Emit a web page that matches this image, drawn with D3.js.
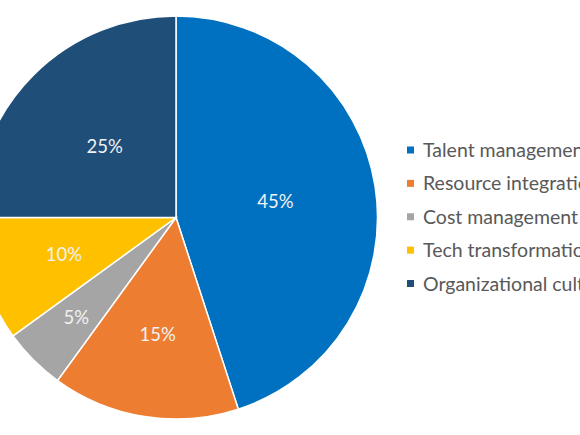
<!DOCTYPE html>
<html>
<head>
<meta charset="utf-8">
<script src="https://cdn.jsdelivr.net/npm/d3@7"></script>
<style>
  html, body { margin: 0; padding: 0; background: #fff; overflow: hidden; }
  svg { display: block; font-family: Lato, "Noto Sans", sans-serif; }
</style>
</head>
<body>
<svg id="chart" width="580" height="435"></svg>
<script>
// chart data
var categories = ["Talent management", "Resource integration", "Cost management", "Tech transformation", "Organizational culture"];
var shares = [45, 15, 5, 10, 25];
var sliceColors = ["#0070C0", "#ED7D31", "#A5A5A5", "#FFC000", "#1F4E79"];

var width = 580, height = 435;
var cx = 176, cy = 217.5, radius = 201.5;

var svg = d3.select("#chart");

var pie = d3.pie().sort(null).value(function(d){ return d; });
var arcs = pie(shares);
var total = d3.sum(shares);

var arc = d3.arc().innerRadius(0).outerRadius(radius);

var g = svg.append("g").attr("transform", "translate(" + cx + "," + cy + ")");

g.selectAll("path.slice")
  .data(arcs)
  .enter().append("path")
  .attr("class", "slice")
  .attr("d", arc)
  .style("fill", function(d, i){ return sliceColors[i]; })
  .style("stroke", "#fff")
  .style("stroke-width", "1.5px");

// small slices get their label pushed further out (like the best fit placement)
function labelRadius(share){
  if(share < 0.07) return radius * 0.70;
  if(share < 0.2) return radius * 0.585;
  return radius * 0.5;
}

g.selectAll("text.pct")
  .data(arcs)
  .enter().append("text")
  .attr("class", "pct")
  .attr("transform", function(d){
    var r = labelRadius(d.value / total);
    var a = (d.startAngle + d.endAngle) / 2;
    return "translate(" + (r * Math.sin(a)) + "," + (-r * Math.cos(a)) + ")";
  })
  .attr("text-anchor", "middle")
  .attr("dy", "0.36em")
  .style("fill", "#F2F2F2")
  .style("font-size", "18.5px")
  .text(function(d){ return Math.round(d.value / total * 100) + "%"; });

// legend (the long names run past the right edge, as in the original)
var legendY = d3.scalePoint().domain(categories).range([150, 283.5]);

var legend = svg.append("g").attr("class", "legend");
var item = legend.selectAll("g")
  .data(categories)
  .enter().append("g")
  .attr("transform", function(d){ return "translate(407," + legendY(d) + ")"; });

item.append("rect")
  .attr("x", 0).attr("y", -3.5)
  .attr("width", 7).attr("height", 7)
  .style("fill", function(d, i){ return sliceColors[i]; });

item.append("text")
  .attr("x", 16)
  .attr("dy", "0.36em")
  .style("fill", "#595959")
  .style("font-size", "19.5px")
  .text(function(d){ return d; });
</script>
</body>
</html>
